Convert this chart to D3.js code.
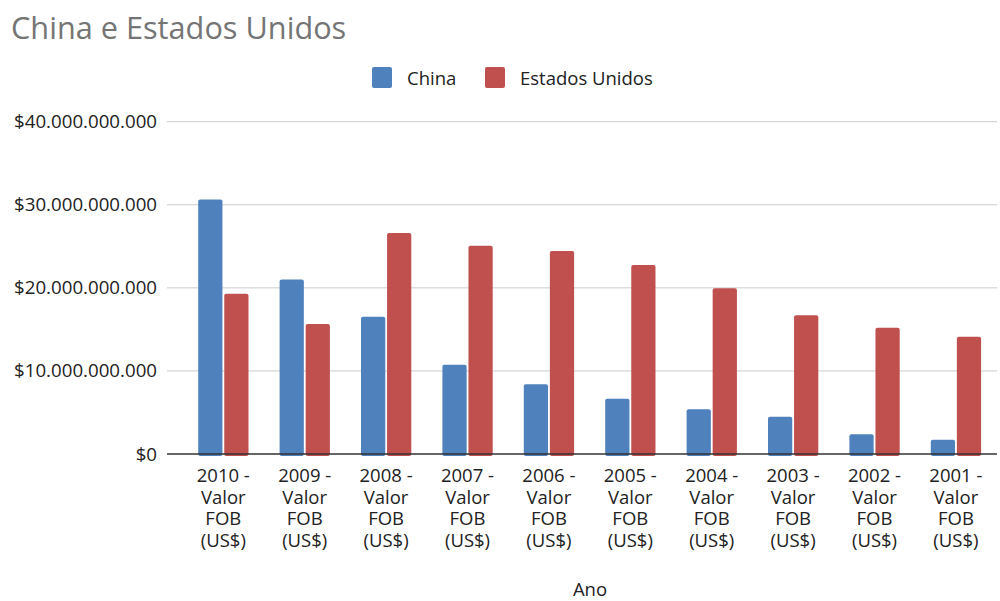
<!DOCTYPE html>
<html><head><meta charset="utf-8">
<script src="https://cdn.jsdelivr.net/npm/d3@7"></script>
<style>body{margin:0;background:#fff}svg{display:block;font-family:"Open Sans",sans-serif}</style>
</head><body><svg id="c" width="1000" height="601"></svg>
<script>
const categories = ["2010","2009","2008","2007","2006","2005","2004","2003","2002","2001"];
const seriesNames = ["China","Estados Unidos"];
const china = [30.65e9,21.02e9,16.52e9,10.75e9,8.39e9,6.66e9,5.38e9,4.49e9,2.37e9,1.72e9];
const usa = [19.29e9,15.64e9,26.6e9,25.07e9,24.43e9,22.74e9,19.94e9,16.69e9,15.2e9,14.12e9];
const yTicks = [0,10e9,20e9,30e9,40e9];
const colors = ["#4F81BD","#C0504D"];

const svg = d3.select("#c");
const x = d3.scaleBand().domain(categories).range([182.6,996.6]).paddingInner(0).paddingOuter(0);
const y = d3.scaleLinear().domain([0,40e9]).range([454,121.7]);
const inner = d3.scaleBand().domain(seriesNames).range([15.6,65.9]).paddingInner(0.07);

const fmt = v => "$" + d3.format(",")(v).replace(/,/g,".");

svg.append("g").selectAll("line").data(yTicks.filter(d=>d>0)).join("line")
  .attr("x1",167).attr("x2",997).attr("y1",d=>y(d)).attr("y2",d=>y(d))
  .attr("stroke","#cccccc").attr("stroke-width",1);

svg.append("g").selectAll("text").data(yTicks).join("text")
  .attr("x",157).attr("y",d=>y(d)+6.5).attr("text-anchor","end")
  .attr("font-size",18.7).attr("fill","#222").text(fmt);

const data = categories.map((c,i)=>({c, vals:[china[i],usa[i]]}));
const g = svg.append("g").selectAll("g").data(data).join("g")
  .attr("transform",d=>`translate(${x(d.c)},0)`);
g.selectAll("rect").data(d=>d.vals.map((v,j)=>({v,s:seriesNames[j],j}))).join("rect")
  .attr("x",d=>inner(d.s)).attr("width",inner.bandwidth())
  .attr("y",d=>y(d.v)).attr("height",d=>y(0)-y(d.v)+2)
  .attr("rx",2).attr("fill",d=>colors[d.j]);

svg.append("line").attr("x1",167).attr("x2",997).attr("y1",y(0)).attr("y2",y(0))
  .attr("stroke","#333").attr("stroke-width",1.3);

const lines = c => [c+" -","Valor","FOB","(US$)"];
categories.forEach(c=>{
  lines(c).forEach((s,i)=>{
    svg.append("text").attr("x",x(c)+x.bandwidth()/2).attr("y",482+i*21.7)
      .attr("text-anchor","middle").attr("font-size",18.5).attr("fill","#222").text(s);
  });
});

svg.append("text").attr("x",590).attr("y",596).attr("text-anchor","middle")
  .attr("font-size",18.5).attr("fill","#222").text("Ano");

svg.append("text").attr("x",11).attr("y",39).attr("font-size",30.7).attr("fill","#757575").text("China e Estados Unidos");

const leg = [{n:"China",x:372},{n:"Estados Unidos",x:485}];
leg.forEach((l,i)=>{
  svg.append("rect").attr("x",l.x).attr("y",67).attr("width",20).attr("height",21).attr("rx",2).attr("fill",colors[i]);
  svg.append("text").attr("x",l.x+35).attr("y",84.5).attr("font-size",18.5).attr("fill","#222").text(l.n);
});
</script></body></html>
